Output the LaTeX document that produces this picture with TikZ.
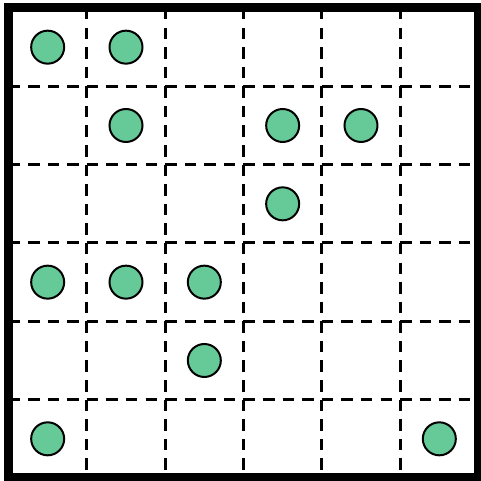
\documentclass[tikz,border=0pt]{standalone}
\definecolor{dotgreen}{RGB}{102,201,152}
\begin{document}
\begin{tikzpicture}[x=1pt,y=-1pt,
  gridline/.style={line width=3pt,dash pattern=on 11.5pt off 8.08pt},
  dot/.style={draw=black,line width=2pt,fill=dotgreen},
  frame/.style={line width=9pt,draw=black}]
\useasboundingbox (0,0) rectangle (481,481);
\fill[white] (0,0) rectangle (481,481);
\def\xo{8.5}\def\yo{8}\def\cs{78.33}
% interior dashed lines, drawn cell edge by cell edge
\foreach \i in {1,...,5}{
  \foreach \j in {0,...,5}{
    \draw[gridline] ({\xo+\i*\cs},{\yo+\j*\cs}) -- ++(0,\cs);
    \draw[gridline] ({\xo+\j*\cs},{\yo+\i*\cs}) -- ++(\cs,0);
  }
}
% outer frame
\draw[frame] (\xo,\yo) rectangle ({\xo+6*\cs},{\yo+6*\cs});
% dots (col,row)
\foreach \c/\r in {0/0,1/0,1/1,3/1,4/1,3/2,0/3,1/3,2/3,2/4,0/5,5/5}{
  \draw[dot] ({\xo+(\c+0.5)*\cs},{\yo+(\r+0.5)*\cs}) circle (16.5);
}
\end{tikzpicture}
\end{document}
